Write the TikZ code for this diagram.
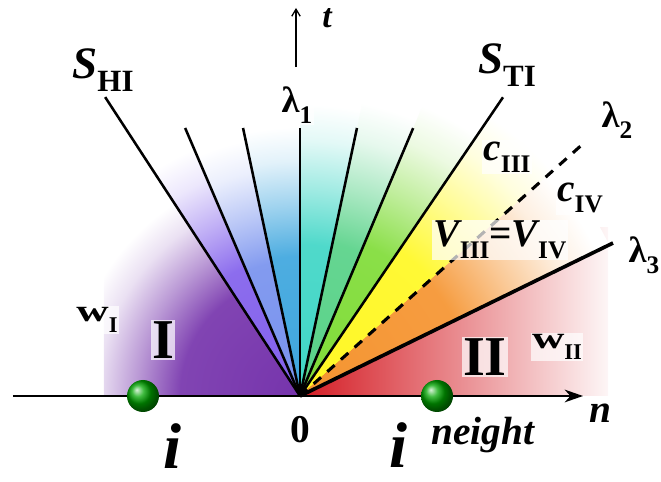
\documentclass[tikz,border=0pt]{standalone}
\usepackage{fontspec}
\setmainfont{Liberation Serif}
\usetikzlibrary{arrows.meta}

\definecolor{regI}{RGB}{118,52,172}
\definecolor{regII}{RGB}{212,28,36}
\definecolor{fanA}{RGB}{130,96,236}
\definecolor{fanB}{RGB}{120,146,238}
\definecolor{fanC}{RGB}{62,166,222}
\definecolor{fanD}{RGB}{64,214,198}
\definecolor{fanE}{RGB}{88,210,136}
\definecolor{fanF}{RGB}{128,220,56}
\definecolor{fanG}{RGB}{255,248,36}
\definecolor{fanH}{RGB}{245,148,48}
\colorlet{fancol}{fanA}
\pgfdeclareradialshading[fancol]{fanfade}{\pgfpointorigin}{color(0bp)=(fancol); color(12.5bp)=(fancol!92!white); color(17bp)=(fancol!50!white); color(21bp)=(fancol!15!white); color(24bp)=(white); color(50bp)=(white)}

\tikzset{
  ray/.style={line width=1.8pt},
  lbl/.style={inner sep=1pt},
  halo/.style={lbl,fill=white,fill opacity=.7,text opacity=1},
  site/.style={circle,minimum size=.8cm,inner sep=0pt,ball color=green!65!black}
}

\begin{document}
\begin{tikzpicture}
\useasboundingbox (-7.5,-2.15) rectangle (9.025,9.9);
\coordinate (O) at (0,0);

% regions I and II
\begin{scope}
  \clip (-4.9,0) rectangle (0,7.6);
  \colorlet{fancol}{regI}
  \shade[shading=fanfade] (O) circle (6);
\end{scope}
\shade[left color=regII,middle color=regII!52!white,right color=regII!4!white]
  (0,0) rectangle (7.7,4.2);

% fan
\foreach \a/\b/\c/\r in {123.1/113.2/fanA/7,113.2/102/fanB/6.8,102/90/fanC/7,
  90/78/fanD/7.6,78/67.1/fanE/7.8,67.1/55.8/fanF/8.2,55.8/41.7/fanG/8.8,41.7/26.05/fanH/8.6}{
  \begin{scope}
    \clip (O) -- (\a:12) arc[start angle=\a,end angle=\b,radius=12] -- cycle;
    \colorlet{fancol}{\c}
    \shade[shading=fanfade] (O) circle (\r);
  \end{scope}
}

\coordinate (eHI) at (123.1:8.92);
\coordinate (e2) at (113.2:7.29);
\coordinate (e3) at (102:6.85);
\coordinate (eL1) at (90:6.7);
\coordinate (e5) at (78:6.85);
\coordinate (e6) at (67.1:7.27);
\coordinate (eTI) at (55.8:9.03);
\coordinate (eL2) at (41.7:9.54);
\coordinate (eL3) at (26.05:8.71);
\coordinate (nL) at (-7.175,0);
\coordinate (nR) at (7.075,0);
\coordinate (tB) at (-0.1,8.22);
\coordinate (tT) at (-0.1,9.7);

\draw[line width=1.3pt,-{Stealth[length=13pt,width=9pt,inset=4pt]}] (nL) -- (nR);
\draw[line width=.9pt,-{Straight Barb[length=5pt,width=6pt]}] (tB) -- (tT);

\foreach \e in {eHI,e2,e3,eL1,e5,e6,eTI}
  \draw[ray] (O) -- (\e);
\draw[ray,line width=2.2pt,dash pattern=on 7pt off 6pt] (O) -- (eL2);
\draw[ray,line width=2.6pt] (O) -- (eL3);

\node[site] (ballI) at (-3.925,0) {};
\node[site] (ballII) at (3.425,0) {};

\node[lbl,font=\fontsize{24}{24}\selectfont\bfseries\itshape] (t) at (0.675,9.45) {t};
\node[lbl,font=\fontsize{32}{32}\selectfont\bfseries\itshape] (sHI) at (-4.925,8.15) {S\raisebox{-.28em}{\upshape\fontsize{22}{22}\selectfont HI}};
\node[lbl,font=\fontsize{32}{32}\selectfont\bfseries\itshape] (sTI) at (5.175,8.275) {S\raisebox{-.28em}{\upshape\fontsize{22}{22}\selectfont TI}};
\node[halo,font=\fontsize{26}{26}\selectfont\bfseries] (l1) at (-0.075,7.275) {λ\raisebox{-.3em}{\fontsize{18}{18}\selectfont 1}};
\node[lbl,font=\fontsize{26}{26}\selectfont\bfseries] (l2) at (7.925,6.9) {λ\raisebox{-.3em}{\fontsize{18}{18}\selectfont 2}};
\node[lbl,font=\fontsize{26}{26}\selectfont\bfseries] (l3) at (8.6,3.525) {λ\raisebox{-.3em}{\fontsize{18}{18}\selectfont 3}};
\node[halo,font=\fontsize{28}{28}\selectfont\bfseries\itshape] (cIII) at (5.175,5.975) {c\raisebox{-.3em}{\upshape\fontsize{18}{18}\selectfont III}};
\node[halo,font=\fontsize{28}{28}\selectfont\bfseries\itshape] (cIV) at (7.0,4.95) {c\raisebox{-.3em}{\upshape\fontsize{18}{18}\selectfont IV}};
\node[halo,font=\fontsize{28}{28}\selectfont\bfseries\itshape] (vv) at (5.0,3.9) {V\raisebox{-.3em}{\upshape\fontsize{18}{18}\selectfont III}\upshape=\itshape V\raisebox{-.3em}{\upshape\fontsize{18}{18}\selectfont IV}};
\node[halo,font=\fontsize{22}{22}\selectfont\bfseries] (wI) at (-5.075,1.9) {\scalebox{1.45}[1]{w}\raisebox{-.35em}{\fontsize{16}{16}\selectfont I}};
\node[halo,font=\fontsize{22}{22}\selectfont\bfseries] (wII) at (6.425,1.225) {\scalebox{1.45}[1]{w}\raisebox{-.35em}{\fontsize{16}{16}\selectfont II}};
\node[halo,font=\fontsize{40}{40}\selectfont\bfseries] (rI) at (-3.425,1.4) {I};
\node[halo,font=\fontsize{40}{40}\selectfont\bfseries] (rII) at (4.625,0.975) {II};
\node[lbl,font=\fontsize{28}{28}\selectfont\bfseries] (zero) at (0,-0.85) {0};
\node[lbl,font=\fontsize{28}{28}\selectfont\bfseries\itshape] (n) at (7.5,-0.425) {n};
\node[lbl,font=\fontsize{46}{46}\selectfont\bfseries\itshape] (iI) at (-3.2,-1.24) {i};
\node[lbl,font=\fontsize{46}{46}\selectfont\bfseries\itshape] (iII) at (2.45,-1.22) {i};
\node[lbl,font=\fontsize{28}{28}\selectfont\bfseries\itshape] (ngh) at (4.575,-0.975) {neight};
\end{tikzpicture}
\end{document}
